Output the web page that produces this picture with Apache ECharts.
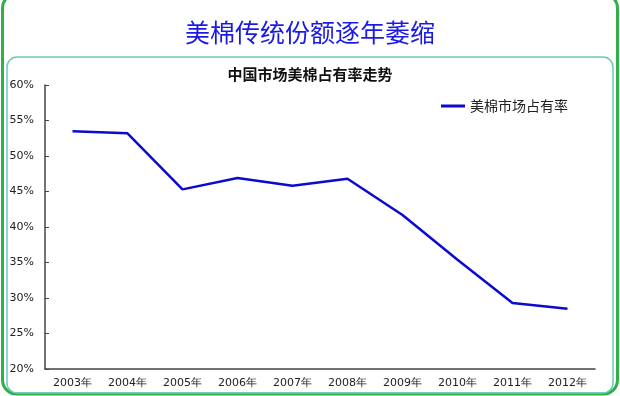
<!DOCTYPE html>
<html><head><meta charset="utf-8">
<script src="https://cdn.jsdelivr.net/npm/echarts@6/dist/echarts.min.js"></script>
<style>html,body{margin:0;padding:0;background:#fff}#c{width:620px;height:396px}</style>
</head><body><div id="c"></div>
<script>
const years = ['2003年','2004年','2005年','2006年','2007年','2008年','2009年','2010年','2011年','2012年'];
const share = [53.5, 53.2, 45.3, 46.9, 45.8, 46.8, 41.7, 35.4, 29.3, 28.5];
const seriesName = '美棉市场占有率';
const mainTitle = '美棉传统份额逐年萎缩';
const subTitle = '中国市场美棉占有率走势';

const chart = echarts.init(document.getElementById('c'), null, {renderer:'canvas'});
chart.setOption({
  animation:false,
  backgroundColor:'#fff',
  graphic:[
    {type:'rect', shape:{x:2.5,y:-6,width:615,height:400,r:14}, style:{fill:'none',stroke:'#2fb04a',lineWidth:3}, z:-1},
    {type:'rect', shape:{x:7,y:57,width:606,height:336,r:10}, style:{fill:'none',stroke:'#6ccab8',lineWidth:1.5}, z:-1}
  ],
  title:[
    {text:mainTitle, left:'center', top:15, textStyle:{fontFamily:'Noto Sans CJK SC', fontSize:25, fontWeight:'normal', color:'#1a1ae6'}},
    {text:subTitle, left:'center', top:62, textStyle:{fontFamily:'Noto Sans CJK SC', fontSize:15, fontWeight:'bold', color:'#111'}}
  ],
  legend:{
    data:[seriesName], left:436, top:94, itemWidth:24, itemHeight:3, itemGap:4,
    icon:'rect',
    textStyle:{fontFamily:'Noto Sans CJK SC', fontSize:14, color:'#222'}
  },
  grid:{left:45, right:25, top:85, bottom:27},
  xAxis:{
    type:'category', data:years, boundaryGap:true,
    axisLine:{lineStyle:{color:'#444', width:1.5}},
    axisTick:{inside:true, length:4, lineStyle:{color:'#444'}},
    axisLabel:{fontFamily:'DejaVu Sans', fontSize:11, color:'#222', margin:9, interval:0}
  },
  yAxis:{
    type:'value', min:20, max:60, interval:5,
    axisLine:{show:true, lineStyle:{color:'#444', width:1.5}},
    axisTick:{show:true, inside:true, length:4, lineStyle:{color:'#444'}},
    splitLine:{show:false},
    axisLabel:{formatter:'{value}%', fontFamily:'DejaVu Sans', fontSize:11, color:'#222', margin:11}
  },
  series:[{
    name:seriesName, type:'line', data:share, showSymbol:false, symbol:'none',
    lineStyle:{color:'#0a0ad0', width:2.5}, itemStyle:{color:'#0a0ad0'}
  }]
});
</script></body></html>
